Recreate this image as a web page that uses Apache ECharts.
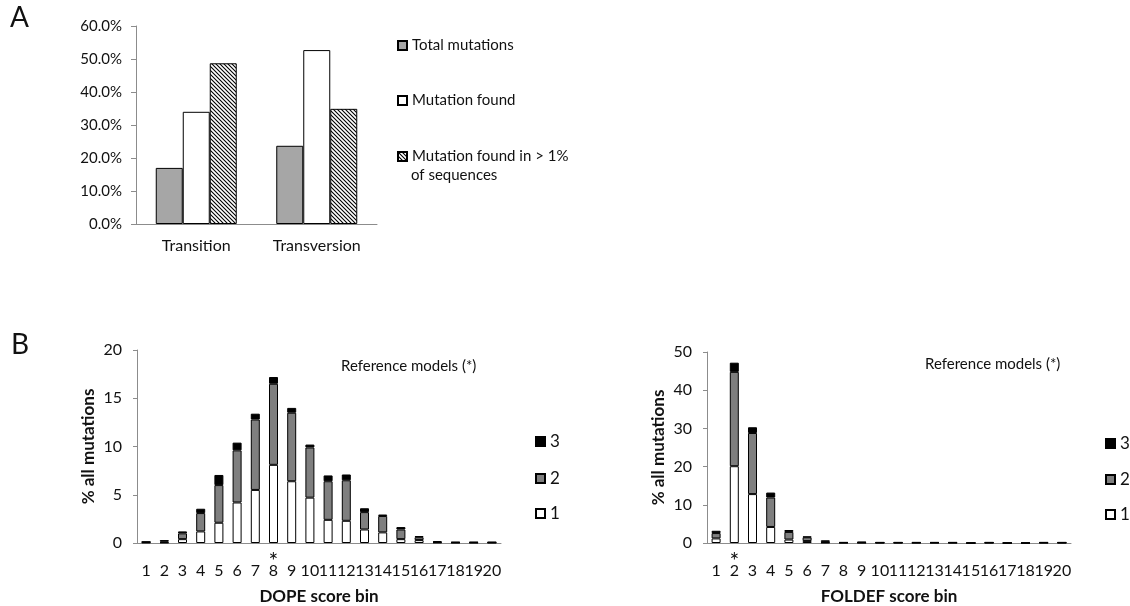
<!DOCTYPE html>
<html>
<head>
<meta charset="utf-8">
<script src="https://cdn.jsdelivr.net/npm/echarts@6/dist/echarts.min.js"></script>
<style>
    html, body {margin: 0; padding: 0; background: #fff;}
    #chart {width: 1130px; height: 606px;}
</style>
</head>
<body>
<div id="chart"></div>
<script>
    // panel A
    var mutTypes = ['Transition', 'Transversion'];
    var totalMutations = [17.0, 23.7];
    var mutationFound = [34.0, 52.7];
    var foundOver1 = [48.7, 34.9];

    // panel B
    var bins = ['1', '2', '3', '4', '5', '6', '7', '8', '9', '10',
        '11', '12', '13', '14', '15', '16', '17', '18', '19', '20'];
    // DOPE score bin
    var dope1 = [0.05, 0.05, 0.4, 1.2, 2.1, 4.2, 5.5, 8.1, 6.4, 4.7, 2.4, 2.3, 1.4, 1.1, 0.4, 0.3, 0.05, 0.03, 0.03, 0.03];
    var dope2 = [0.05, 0.1, 0.6, 1.9, 3.9, 5.4, 7.3, 8.4, 7.1, 5.2, 4.0, 4.2, 1.8, 1.7, 1.0, 0.3, 0.05, 0.03, 0.03, 0.03];
    var dope3 = [0.03, 0.15, 0.2, 0.45, 1.05, 0.8, 0.6, 0.7, 0.5, 0.3, 0.6, 0.6, 0.4, 0.15, 0.25, 0.12, 0.1, 0.05, 0.05, 0.05];
    // FOLDEF score bin
    var foldef1 = [1.2, 20.1, 12.8, 4.2, 0.9, 0.5, 0.1, 0.05, 0.05, 0.05, 0.05, 0.05, 0.05, 0.05, 0, 0.05, 0, 0, 0.05, 0.05];
    var foldef2 = [1.4, 24.7, 16.0, 7.7, 2.0, 1.0, 0.2, 0.05, 0.1, 0.05, 0.05, 0.05, 0.05, 0.05, 0, 0.05, 0, 0, 0.05, 0.05];
    var foldef3 = [0.6, 2.4, 1.5, 1.3, 0.5, 0.2, 0.4, 0.1, 0.15, 0.1, 0.1, 0.1, 0.1, 0.1, 0, 0.1, 0, 0, 0.1, 0.1];

    // reference model bins (marked with *)
    var dopeRef = '8';
    var foldefRef = '2';

    var font = 'Lato, "Open Sans", sans-serif';
    var axisGrey = '#8c8c8c';

    // hatch pattern for "found in > 1%"
    var hatch = document.createElement('canvas');
    hatch.width = 4;
    hatch.height = 4;
    var ctx = hatch.getContext('2d');
    ctx.fillStyle = '#fff';
    ctx.fillRect(0, 0, 4, 4);
    ctx.strokeStyle = '#000';
    ctx.lineWidth = 1.1;
    ctx.beginPath();
    ctx.moveTo(-1, -1); ctx.lineTo(5, 5);
    ctx.moveTo(-1, 3); ctx.lineTo(1, 5);
    ctx.moveTo(3, -1); ctx.lineTo(5, 1);
    ctx.stroke();

    function binXAxis(gridIndex, name) {
        return {
            type: 'category',
            gridIndex: gridIndex,
            data: bins,
            name: name,
            nameLocation: 'middle',
            nameGap: 45,
            nameTextStyle: {fontFamily: font, fontSize: 17, fontWeight: 'bold', color: '#111'},
            axisLine: {lineStyle: {color: axisGrey}},
            axisTick: {length: 4, lineStyle: {color: axisGrey}},
            axisLabel: {interval: 0, margin: 20, fontFamily: font, fontSize: 16, color: '#111'}
        };
    }

    function binYAxis(gridIndex, max, interval, gap) {
        return {
            type: 'value',
            gridIndex: gridIndex,
            min: 0,
            max: max,
            interval: interval,
            name: '% all mutations',
            nameLocation: 'middle',
            nameRotate: 90,
            nameGap: gap,
            nameTextStyle: {fontFamily: font, fontSize: 17, fontWeight: 'bold', color: '#111'},
            splitLine: {show: false},
            axisLine: {show: true, lineStyle: {color: axisGrey}},
            axisTick: {show: true, length: 4, lineStyle: {color: axisGrey}},
            axisLabel: {margin: 15, fontFamily: font, fontSize: 16, color: '#111'}
        };
    }

    function stackSeries(idx, stack, d1, d2, d3, star) {
        var border = {borderColor: '#000', borderWidth: 1};
        return [
            {name: '1', type: 'bar', stack: stack, xAxisIndex: idx, yAxisIndex: idx, barWidth: 9, data: d1,
                itemStyle: Object.assign({color: '#fff'}, border),
                // asterisk under the reference bin
                markPoint: {
                    symbol: 'circle',
                    symbolSize: 0,
                    silent: true,
                    data: [{coord: [star, 0]}],
                    label: {show: true, position: 'inside', offset: [0, 19], formatter: '*',
                        fontFamily: font, fontSize: 23, color: '#111'}
                }},
            {name: '2', type: 'bar', stack: stack, xAxisIndex: idx, yAxisIndex: idx, barWidth: 9, data: d2,
                itemStyle: Object.assign({color: '#7f7f7f'}, border)},
            {name: '3', type: 'bar', stack: stack, xAxisIndex: idx, yAxisIndex: idx, barWidth: 9, data: d3,
                itemStyle: Object.assign({color: '#000'}, border)}
        ];
    }

    function oneLegend(name, left, top, size) {
        return {
            data: [name],
            left: left,
            top: top,
            orient: 'vertical',
            icon: 'rect',
            itemWidth: 9,
            itemHeight: 9,
            itemGap: 0,
            selectedMode: false,
            padding: 0,
            textStyle: {fontFamily: font, fontSize: size, color: '#111'}
        };
    }

    var chart = echarts.init(document.getElementById('chart'));

    var option = {
        animation: false,
        backgroundColor: '#fff',
        grid: [
            {left: 136, right: 753, top: 26, bottom: 382},
            {left: 137, right: 629, top: 350, bottom: 63},
            {left: 707, right: 59, top: 352, bottom: 62}
        ],
        xAxis: [
            {
                type: 'category',
                gridIndex: 0,
                data: mutTypes,
                axisLine: {lineStyle: {color: axisGrey}},
                axisTick: {length: 5, lineStyle: {color: axisGrey}},
                axisLabel: {margin: 14, fontFamily: font, fontSize: 16, color: '#111'}
            },
            binXAxis(1, 'DOPE score bin'),
            binXAxis(2, 'FOLDEF score bin')
        ],
        yAxis: [
            {
                type: 'value',
                gridIndex: 0,
                min: 0,
                max: 60,
                interval: 10,
                splitLine: {show: false},
                axisLine: {show: true, lineStyle: {color: axisGrey}},
                axisTick: {show: true, length: 5, lineStyle: {color: axisGrey}},
                axisLabel: {
                    margin: 14, fontFamily: font, fontSize: 15, color: '#111',
                    formatter: function (v) {
                        return v.toFixed(1) + '%';
                    }
                }
            },
            binYAxis(1, 20, 5, 40),
            binYAxis(2, 50, 10, 40)
        ],
        legend: [
            oneLegend('Total mutations', 397, 38, 15),
            oneLegend('Mutation found', 397, 93, 15),
            oneLegend('Mutation found in > 1%', 397, 149, 15),
            oneLegend('3', 535, 433, 17),
            oneLegend('2', 535, 470, 17),
            oneLegend('1', 535, 505, 17),
            oneLegend('3', 1105, 435, 17),
            oneLegend('2', 1105, 471, 17),
            oneLegend('1', 1105, 506, 17)
        ],
        graphic: [
            {type: 'text', left: 10, top: 4, style: {text: 'A', fontFamily: font, fontSize: 28, fill: '#111'}},
            {type: 'text', left: 11, top: 331, style: {text: 'B', fontFamily: font, fontSize: 28, fill: '#111'}},
            {type: 'text', left: 411, top: 168, style: {text: 'of sequences', fontFamily: font, fontSize: 15, fill: '#111'}},
            {type: 'text', left: 341, top: 359, style: {text: 'Reference models (*)', fontFamily: font, fontSize: 15, fill: '#111'}},
            {type: 'text', left: 925, top: 357, style: {text: 'Reference models (*)', fontFamily: font, fontSize: 15, fill: '#111'}}
        ],
        series: [
            {name: 'Total mutations', type: 'bar', xAxisIndex: 0, yAxisIndex: 0, barWidth: 27, barGap: '0%',
                data: totalMutations, itemStyle: {color: '#a6a6a6', borderColor: '#000', borderWidth: 1}},
            {name: 'Mutation found', type: 'bar', xAxisIndex: 0, yAxisIndex: 0, barWidth: 27, barGap: '0%',
                data: mutationFound, itemStyle: {color: '#fff', borderColor: '#000', borderWidth: 1}},
            {name: 'Mutation found in > 1%', type: 'bar', xAxisIndex: 0, yAxisIndex: 0, barWidth: 27, barGap: '0%',
                data: foundOver1, itemStyle: {color: {image: hatch, repeat: 'repeat'}, borderColor: '#000', borderWidth: 1}}
        ].concat(stackSeries(1, 'dope', dope1, dope2, dope3, dopeRef))
            .concat(stackSeries(2, 'foldef', foldef1, foldef2, foldef3, foldefRef))
    };

    chart.setOption(option);
</script>
</body>
</html>
